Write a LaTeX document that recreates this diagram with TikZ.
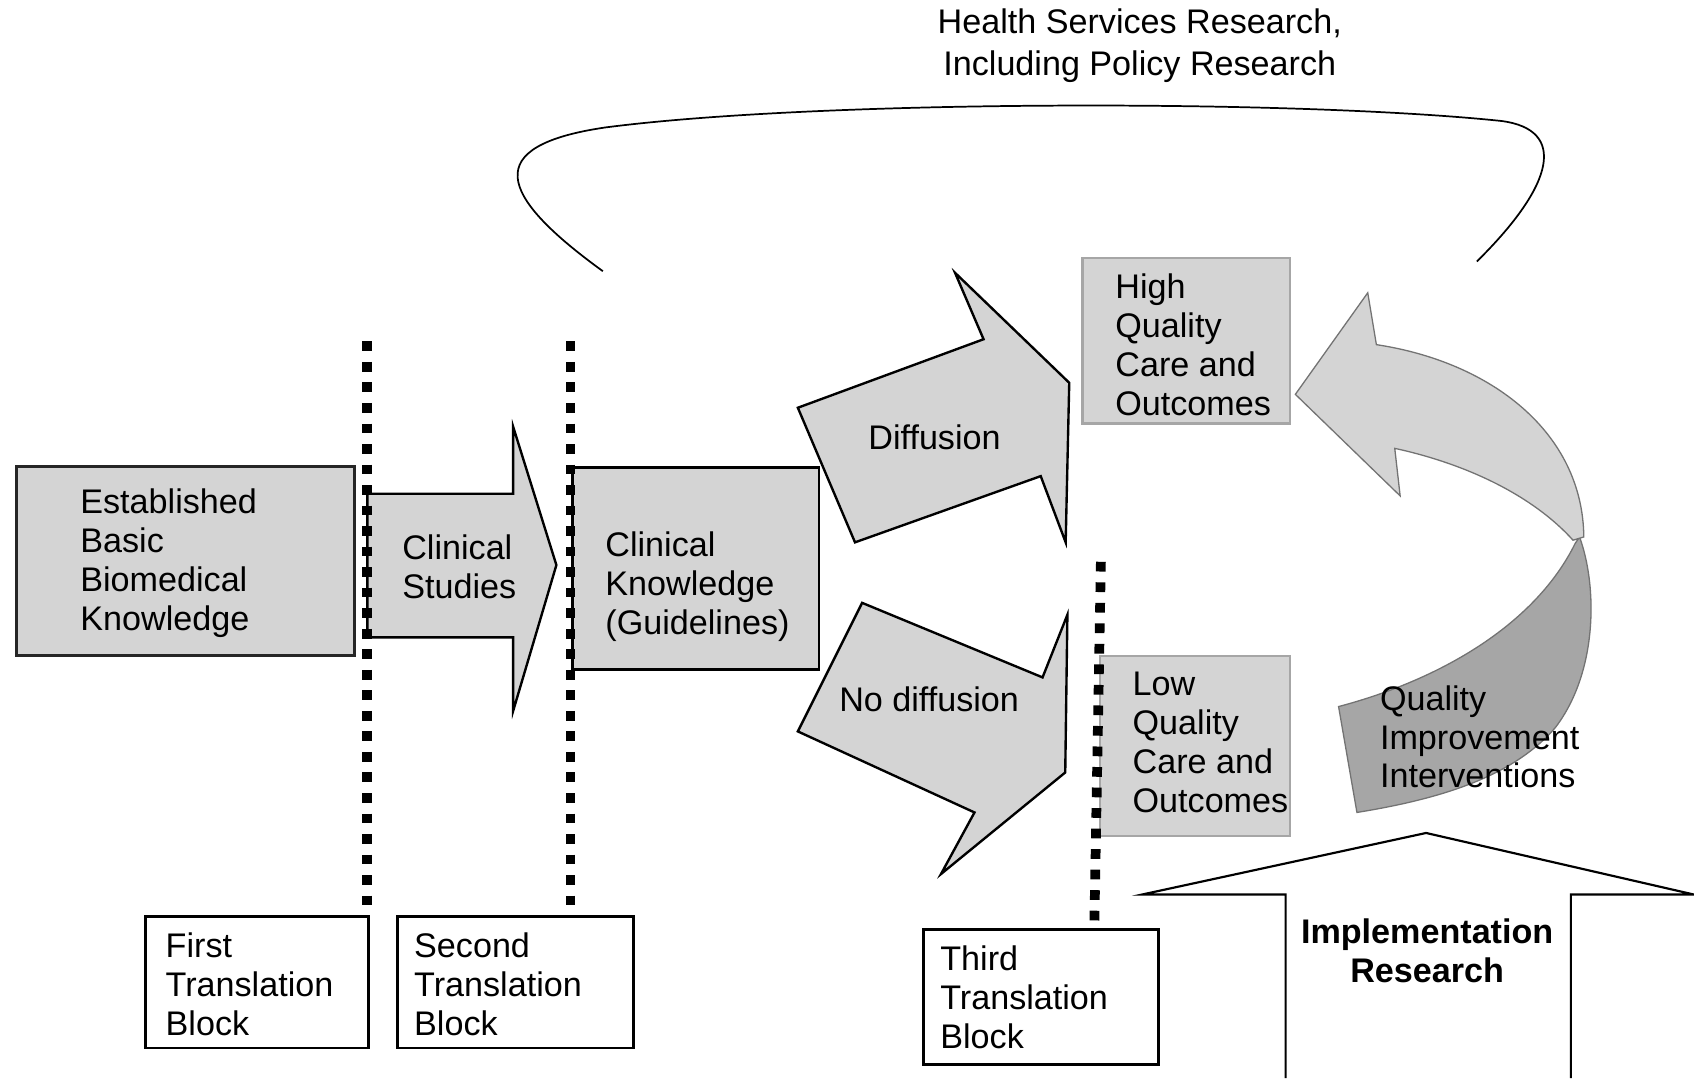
\documentclass[tikz,border=0pt]{standalone}
\usepackage{fontspec}
\setmainfont{Liberation Sans}
\definecolor{fillg}{gray}{0.83}
\definecolor{darkg}{gray}{0.65}
\definecolor{edgeg}{gray}{0.45}
\begin{document}
\begin{tikzpicture}[x=0.5pt,y=-0.5pt,
  txt/.style={inner sep=0pt, align=left, anchor=west, font=\fontsize{15.8}{18}\selectfont},
  ctxt/.style={inner sep=0pt, align=center, font=\fontsize{15.8}{18}\selectfont},
  graybox/.style={fill=fillg, draw=black!85, line width=1.3pt},
  lightbox/.style={fill=fillg, draw=black!35, line width=1pt},
  whitebox/.style={fill=white, draw=black, line width=1.3pt},
  bigarrow/.style={fill=fillg, draw=black, line width=1.1pt, line join=miter},
  dotline/.style={line width=4.5pt, dash pattern=on 4.5pt off 5pt},
  curvearrow/.style={draw=edgeg, line width=0.6pt}]
\useasboundingbox (0,0) rectangle (1568,998);

% bracket curve at top
\draw[line width=0.8pt] (558,251) .. controls (460,180) and (445,135) .. (560,118)
  .. controls (760,92) and (1200,92) .. (1390,112)
  .. controls (1450,120) and (1440,170) .. (1367,242);
\node[ctxt, font=\fontsize{15.8}{19.5}\selectfont] (t-hsr) at (1055,42) {Health Services Research,\\Including Policy Research};

% established box
\draw[graybox] (15,432) rectangle (328,607);
\node[txt] (t-est) at (74,521) {Established\\Basic\\Biomedical\\Knowledge};

% clinical studies arrow
\draw[bigarrow] (340,457) -- (475,457) -- (475,395) -- (515,523) -- (475,658) -- (475,590) -- (340,590) -- cycle;
\node[txt] (t-cs) at (372,525) {Clinical\\Studies};

% clinical knowledge box
\draw[graybox, draw=black] (530,433) rectangle (758,620);
\node[txt] (t-ck) at (560,543) {Clinical\\Knowledge\\(Guidelines)};

% diffusion arrow
\draw[bigarrow] (738.5,377.4) -- (910.4,314) -- (884,252.5) -- (989.7,354.3) -- (986.4,502)
  -- (963.3,440.7) -- (791.4,502) -- cycle;
\node[ctxt] (t-dif) at (865,405) {Diffusion};

% no diffusion arrow
\draw[bigarrow] (798,558) -- (965,627) -- (988,569) -- (986,715) -- (871,809) -- (902,752)
  -- (738.5,677) -- cycle;
\node[ctxt] (t-nodif) at (860,647) {No diffusion};

% high / low quality boxes
\draw[lightbox] (1002,239) rectangle (1194,392);
\node[txt] (t-hq) at (1032,319) {High\\Quality\\Care and\\Outcomes};
\draw[lightbox] (1018,607) rectangle (1194,774);
\node[txt] (t-lq) at (1048,687) {Low\\Quality\\Care and\\Outcomes};

% curved quality improvement arrow
\draw[curvearrow, fill=darkg] (1462,497) .. controls (1478,540) and (1480,620) .. (1440,673)
  .. controls (1400,720) and (1330,740) .. (1256,752) -- (1239,654)
  .. controls (1330,630) and (1420,580) .. (1458,503) -- cycle;
\draw[curvearrow, fill=fillg] (1199,365) -- (1266,271) -- (1274,319)
  .. controls (1380,335) and (1465,400) .. (1466,497) -- (1456,500)
  .. controls (1420,460) and (1360,430) .. (1291,415) -- (1296,459) -- cycle;
\node[txt] (t-qii) at (1277,682) {Quality\\Improvement\\Interventions};

% implementation research arrow
\draw[line width=1pt] (1190,998) -- (1190,828) -- (1057,828) -- (1320,771) -- (1568,828)
  -- (1454,828) -- (1454,998);
\node[ctxt, font=\fontsize{15.8}{18}\selectfont\bfseries] (t-impl) at (1321,880) {Implementation\\Research};

% translation block boxes
\draw[whitebox] (135,848) rectangle (341,970);
\node[txt] (t-b1) at (153,911) {First\\Translation\\Block};
\draw[whitebox] (368,848) rectangle (586,970);
\node[txt] (t-b2) at (383,911) {Second\\Translation\\Block};
\draw[whitebox] (855,860) rectangle (1072,985);
\node[txt] (t-b3) at (870,923) {Third\\Translation\\Block};

% dotted block lines
\draw[dotline] (340,316) -- (340,840);
\draw[dotline] (528,316) -- (528,840);
\draw[dotline] (1019,520) -- (1013,852);
\end{tikzpicture}
\end{document}
